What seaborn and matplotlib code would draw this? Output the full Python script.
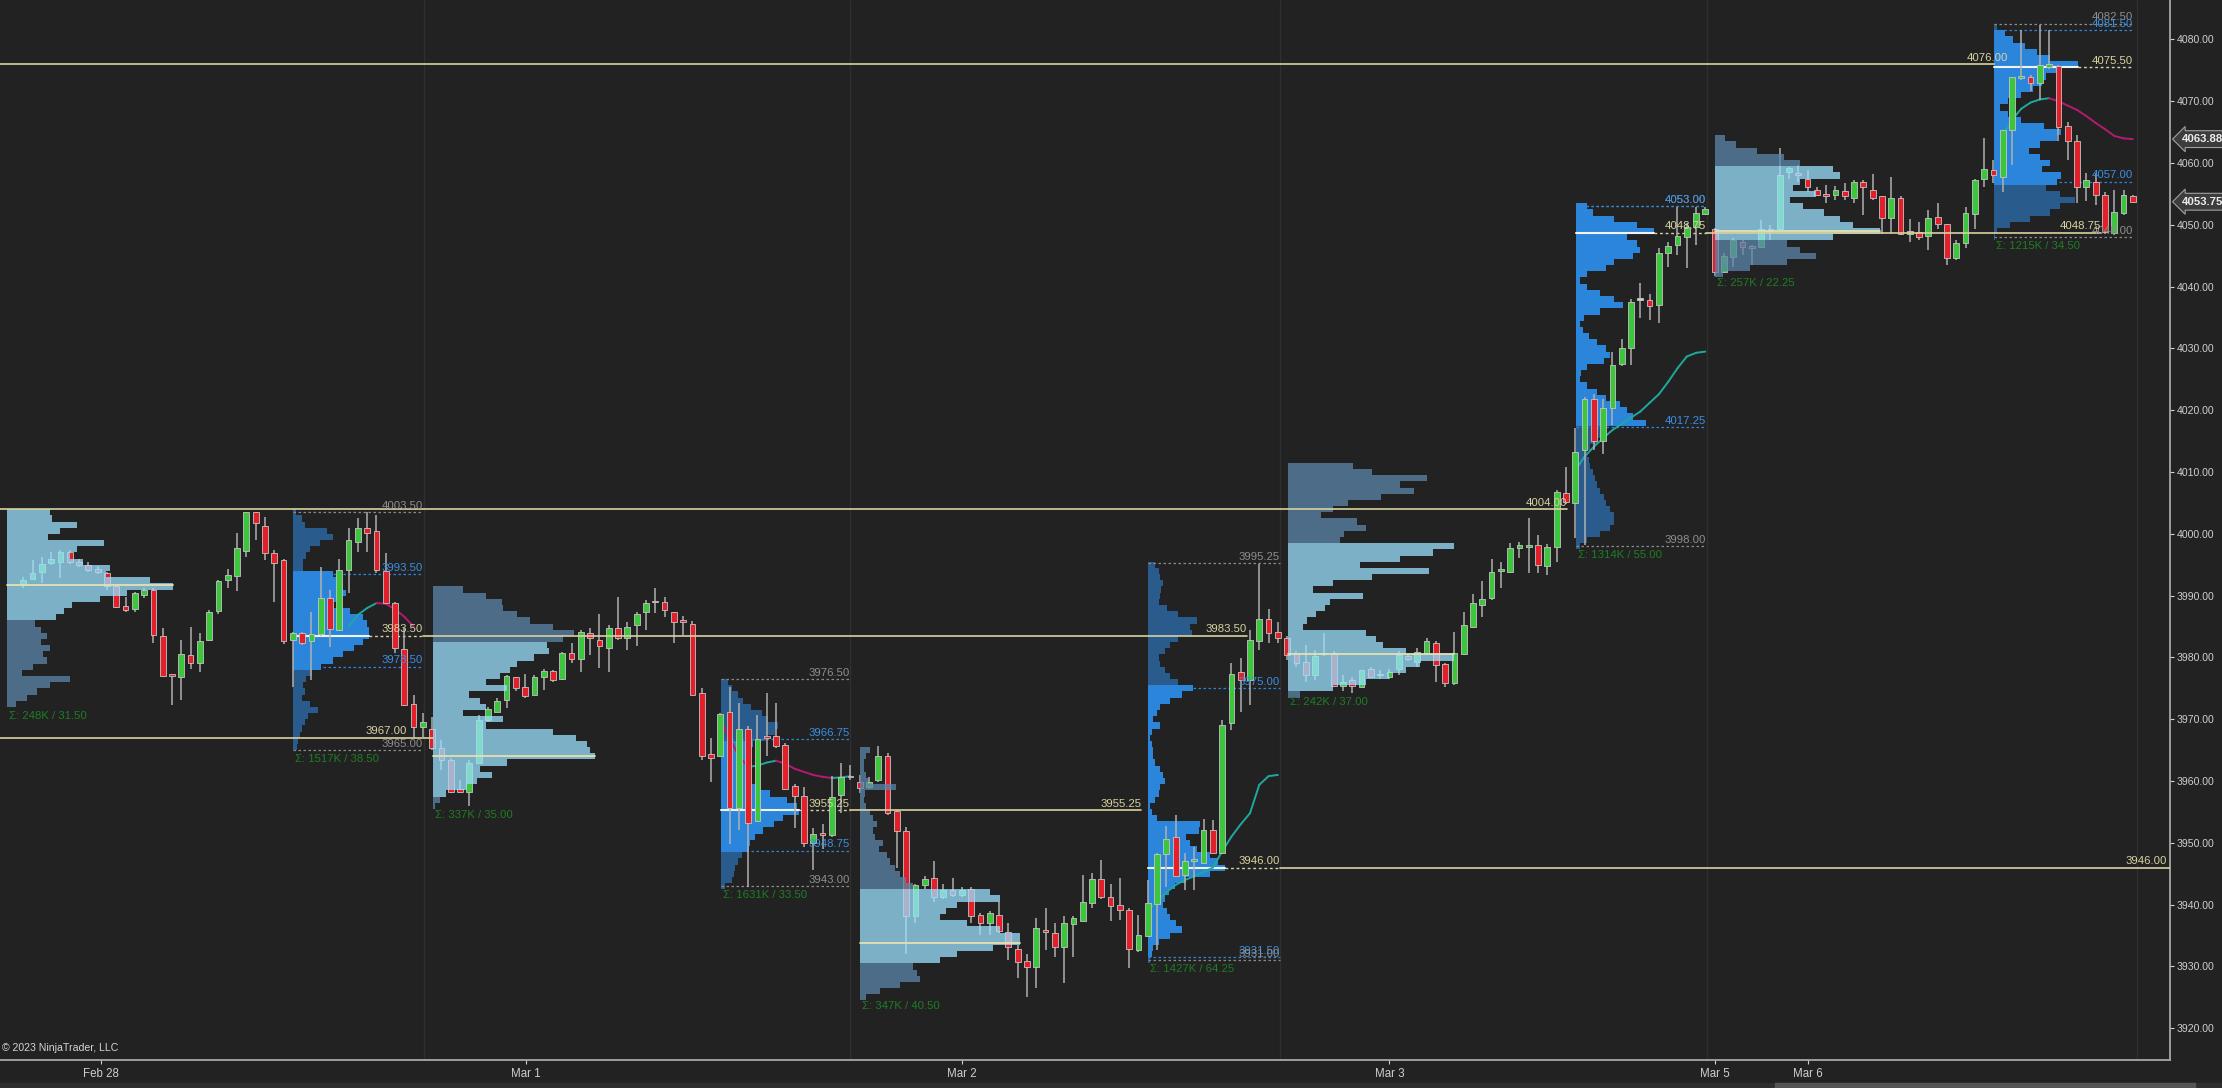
import numpy as np
import matplotlib
matplotlib.use("Agg")
import matplotlib.pyplot as plt
import matplotlib.transforms as mtransforms
from matplotlib.patches import Rectangle
import seaborn as sns

sns.set_style("dark", {"axes.facecolor": "#222222", "figure.facecolor": "#222222",
                       "axes.edgecolor": "#a0a0a0"})
plt.rcParams['font.family'] = ['Liberation Sans', 'DejaVu Sans']

# ---- 30 minute bars, ES, Feb 28 - Mar 6 ----
opens = [3991.8, 3992.7, 3993.9, 3995.3, 3995.5, 3997.1, 3995.5, 3995.0, 3994.4, 3993.6,
         3991.6, 3988.3, 3987.8, 3990.1, 3990.9, 3983.4, 3977.3, 3976.9, 3980.4, 3979.1,
         3982.8, 3987.6, 3992.5, 3993.2, 3997.3, 4003.6, 4001.3, 3996.9, 3995.7, 3982.9,
         3983.9, 3982.6, 3983.8, 3989.6, 3984.4, 3994.2, 3998.7, 4000.9, 4000.4, 3994.0,
         3988.8, 3981.3, 3972.4, 3968.8, 3968.5, 3965.3, 3963.4, 3958.8, 3958.3, 3962.9,
         3969.9, 3971.2, 3973.1, 3976.8, 3975.3, 3973.9, 3976.8, 3977.8, 3976.5, 3980.8,
         3979.8, 3983.9, 3982.8, 3981.5, 3984.7, 3983.1, 3985.3, 3987.3, 3988.9, 3989.0,
         3987.3, 3985.9, 3985.5, 3974.3, 3964.4, 3964.1, 3971.1, 3955.6, 3968.4, 3953.5,
         3967.3, 3967.3, 3965.8, 3959.2, 3957.6, 3950.0, 3951.4, 3951.3, 3957.8, 3960.9,
         3959.8, 3959.1, 3960.2, 3964.0, 3955.1, 3952.0, 3938.2, 3943.2, 3944.4, 3941.2,
         3942.4, 3941.6, 3942.5, 3938.3, 3937.0, 3938.3, 3935.6, 3932.9, 3930.9, 3929.9,
         3935.9, 3935.4, 3933.1, 3936.8, 3937.3, 3940.3, 3944.2, 3941.2, 3939.9, 3939.1,
         3932.7, 3934.9, 3940.1, 3948.2, 3950.9, 3944.8, 3947.1, 3946.8, 3952.1, 3948.4,
         3969.4, 3977.6, 3976.4, 3982.6, 3986.2, 3984.2, 3983.1, 3980.7, 3979.2, 3977.2,
         3980.5, 3980.8, 3975.4, 3976.4, 3975.3, 3978.1, 3977.1, 3976.9, 3978.1, 3980.3,
         3979.3, 3980.8, 3982.3, 3978.9, 3975.8, 3980.6, 3985.0, 3988.5, 3989.6, 3994.0,
         3993.9, 3997.7, 3997.9, 3998.2, 3994.8, 3997.9, 4006.6, 4005.0, 4013.5, 4021.8,
         4015.1, 4020.3, 4027.5, 4030.0, 4037.9, 4037.9, 4037.0, 4045.5, 4046.8, 4048.1,
         4049.7, 4051.8, 4049.3, 4042.4, 4044.8, 4047.3, 4046.4, 4046.5, 4049.4, 4049.3,
         4058.6, 4058.2, 4057.4, 4055.7, 4055.0, 4054.8, 4055.5, 4054.3, 4057.0, 4055.6,
         4054.6, 4051.1, 4054.3, 4048.5, 4048.9, 4048.2, 4051.3, 4050.1, 4044.6, 4047.0,
         4051.8, 4057.4, 4058.9, 4057.8, 4065.4, 4073.8, 4074.0, 4072.9, 4075.6, 4075.7,
         4066.0, 4063.5, 4056.2, 4057.0, 4054.8, 4048.7, 4052.0, 4054.7]
highs = [3993.0, 3995.8, 3996.3, 3997.1, 3997.4, 3997.4, 3996.0, 3995.4, 3994.8, 3993.8,
         3991.7, 3989.8, 3990.6, 3991.2, 3991.2, 3984.7, 3977.4, 3982.8, 3985.0, 3983.9,
         3987.7, 3992.5, 3994.4, 4000.1, 4003.6, 4003.6, 4002.8, 3997.4, 3995.9, 3984.2,
         3984.2, 3987.4, 3994.6, 3990.9, 3995.9, 4000.9, 4002.5, 4003.6, 4003.1, 3996.9,
         3989.0, 3984.7, 3973.9, 3971.0, 3970.4, 3966.7, 3963.7, 3960.2, 3963.4, 3970.7,
         3972.0, 3973.4, 3977.2, 3976.9, 3977.4, 3977.2, 3978.2, 3978.0, 3980.9, 3982.3,
         3984.5, 3984.7, 3987.1, 3985.3, 3989.8, 3985.8, 3987.4, 3989.3, 3991.2, 3989.8,
         3987.4, 3986.7, 3985.9, 3975.0, 3966.9, 3971.0, 3975.3, 3972.6, 3968.9, 3970.7,
         3974.2, 3972.6, 3966.1, 3959.6, 3959.1, 3952.4, 3953.0, 3960.9, 3962.9, 3962.6,
         3961.0, 3960.6, 3965.6, 3964.5, 3955.4, 3952.6, 3943.4, 3944.6, 3947.0, 3943.4,
         3944.3, 3942.9, 3942.9, 3938.6, 3938.9, 3940.5, 3937.0, 3933.5, 3932.1, 3937.8,
         3939.4, 3937.0, 3938.1, 3938.1, 3944.8, 3945.1, 3947.2, 3943.4, 3944.3, 3939.4,
         3938.3, 3944.0, 3948.3, 3952.7, 3954.5, 3948.3, 3949.4, 3953.8, 3953.7, 3969.9,
         3979.1, 3979.9, 3984.5, 3995.2, 3987.8, 3985.8, 3983.4, 3981.0, 3982.0, 3981.2,
         3983.9, 3981.0, 3977.2, 3976.9, 3978.0, 3978.4, 3977.9, 3978.2, 3981.0, 3980.6,
         3981.5, 3983.1, 3982.6, 3979.1, 3984.2, 3987.4, 3990.3, 3992.3, 3995.9, 3995.5,
         3998.6, 3998.7, 4002.5, 3999.8, 3998.4, 4007.1, 4010.9, 4017.1, 4022.2, 4022.7,
         4021.9, 4029.5, 4031.5, 4038.0, 4040.6, 4038.8, 4046.2, 4047.3, 4052.9, 4050.3,
         4052.9, 4052.9, 4049.5, 4045.4, 4047.8, 4047.6, 4046.7, 4050.8, 4050.0, 4062.4,
         4059.4, 4059.7, 4058.9, 4056.2, 4056.5, 4056.3, 4056.7, 4057.3, 4057.3, 4058.2,
         4054.7, 4057.7, 4054.7, 4050.9, 4050.5, 4052.4, 4053.5, 4050.2, 4047.5, 4052.9,
         4057.5, 4064.0, 4060.5, 4065.4, 4074.0, 4081.5, 4074.2, 4082.3, 4081.6, 4075.9,
         4066.7, 4064.5, 4058.4, 4058.4, 4055.4, 4055.6, 4055.6, 4054.8]
lows = [3991.2, 3992.5, 3992.0, 3995.0, 3992.8, 3995.2, 3994.6, 3993.9, 3993.5, 3991.0,
        3988.0, 3987.4, 3987.4, 3989.6, 3982.3, 3976.9, 3972.3, 3973.1, 3978.2, 3977.7,
        3982.6, 3987.1, 3991.2, 3990.7, 3996.3, 3999.0, 3995.8, 3989.0, 3982.2, 3975.3,
        3982.0, 3976.4, 3983.4, 3981.7, 3984.3, 3990.4, 3997.1, 3997.1, 3993.6, 3988.7,
        3980.7, 3972.1, 3966.9, 3967.2, 3965.0, 3961.8, 3958.0, 3958.0, 3955.9, 3962.9,
        3969.6, 3971.2, 3971.8, 3974.5, 3973.4, 3973.9, 3974.7, 3976.1, 3976.4, 3979.1,
        3977.7, 3980.4, 3978.3, 3977.7, 3982.8, 3981.2, 3981.8, 3984.5, 3987.2, 3986.6,
        3982.3, 3983.6, 3973.9, 3963.4, 3959.9, 3963.9, 3949.9, 3952.1, 3942.9, 3953.4,
        3964.0, 3965.3, 3958.6, 3952.4, 3949.4, 3945.6, 3949.0, 3950.9, 3954.8, 3960.2,
        3958.0, 3958.8, 3959.9, 3954.5, 3945.9, 3932.1, 3937.0, 3942.6, 3940.5, 3941.0,
        3941.3, 3941.3, 3937.0, 3935.1, 3935.1, 3935.4, 3931.0, 3928.1, 3925.1, 3926.5,
        3932.7, 3931.6, 3927.3, 3931.6, 3937.3, 3939.4, 3941.0, 3937.3, 3937.5, 3929.7,
        3932.4, 3934.8, 3932.7, 3942.9, 3944.6, 3942.3, 3942.4, 3946.7, 3948.3, 3948.2,
        3968.3, 3971.2, 3972.3, 3981.2, 3982.3, 3982.3, 3979.6, 3978.5, 3976.1, 3976.4,
        3980.2, 3975.3, 3974.5, 3974.2, 3975.2, 3976.7, 3976.6, 3976.5, 3977.2, 3979.4,
        3978.5, 3980.4, 3976.1, 3975.3, 3975.5, 3980.4, 3984.7, 3986.6, 3989.3, 3991.2,
        3993.6, 3996.1, 3993.6, 3993.6, 3993.4, 3995.5, 4004.9, 3999.3, 3998.2, 4013.6,
        4013.0, 4017.6, 4027.1, 4027.3, 4034.9, 4034.6, 4034.1, 4043.2, 4045.1, 4043.0,
        4046.8, 4051.6, 4041.7, 4042.2, 4043.2, 4045.1, 4043.5, 4046.2, 4047.6, 4049.2,
        4057.5, 4057.0, 4055.4, 4054.6, 4053.5, 4054.0, 4054.0, 4053.5, 4051.6, 4054.0,
        4048.6, 4048.7, 4048.4, 4047.3, 4047.6, 4045.9, 4049.4, 4043.5, 4044.3, 4046.2,
        4049.4, 4056.1, 4056.7, 4055.4, 4059.7, 4073.4, 4071.7, 4070.2, 4075.3, 4063.5,
        4060.5, 4053.5, 4053.8, 4053.2, 4048.6, 4048.4, 4051.6, 4053.7]
closes = [3992.5, 3993.6, 3995.2, 3995.9, 3997.1, 3995.5, 3995.0, 3994.2, 3993.8, 3991.5,
          3988.1, 3987.7, 3990.4, 3990.9, 3983.6, 3977.0, 3977.0, 3980.6, 3979.1, 3982.6,
          3987.4, 3992.4, 3993.4, 3997.7, 4003.6, 4001.7, 3996.9, 3995.3, 3982.7, 3983.9,
          3982.3, 3983.8, 3989.6, 3984.6, 3994.2, 3999.0, 4000.9, 4000.1, 3994.2, 3988.8,
          3981.6, 3972.3, 3968.8, 3969.6, 3965.3, 3963.4, 3958.3, 3958.3, 3962.9, 3969.9,
          3971.6, 3972.9, 3977.0, 3975.0, 3973.7, 3976.9, 3977.8, 3976.4, 3980.8, 3979.8,
          3984.2, 3983.1, 3981.8, 3984.7, 3983.1, 3985.0, 3987.1, 3988.8, 3989.0, 3987.7,
          3985.8, 3985.8, 3974.0, 3964.0, 3963.8, 3970.9, 3955.6, 3968.4, 3953.3, 3966.8,
          3967.0, 3965.7, 3958.8, 3957.6, 3950.0, 3951.4, 3951.3, 3957.5, 3960.7, 3960.6,
          3958.9, 3959.9, 3964.0, 3954.8, 3952.0, 3938.2, 3943.2, 3944.2, 3941.3, 3942.4,
          3941.6, 3942.4, 3938.1, 3937.1, 3938.6, 3935.8, 3933.1, 3930.8, 3929.9, 3936.2,
          3935.6, 3933.1, 3937.0, 3937.8, 3940.5, 3944.2, 3941.3, 3939.8, 3939.2, 3932.8,
          3935.1, 3940.2, 3948.2, 3950.7, 3944.6, 3947.1, 3947.2, 3952.1, 3948.4, 3969.1,
          3977.3, 3976.4, 3982.8, 3986.3, 3983.9, 3983.1, 3980.4, 3979.1, 3977.2, 3980.3,
          3980.7, 3975.4, 3976.1, 3975.4, 3977.9, 3976.9, 3977.2, 3977.7, 3980.4, 3979.7,
          3980.9, 3982.6, 3978.8, 3975.8, 3980.8, 3985.3, 3988.8, 3989.4, 3993.9, 3994.2,
          3997.7, 3998.2, 3998.0, 3995.0, 3997.9, 4006.8, 4005.2, 4013.3, 4021.8, 4015.1,
          4020.3, 4027.3, 4030.1, 4037.6, 4037.9, 4036.8, 4045.5, 4046.6, 4048.2, 4049.7,
          4052.0, 4052.5, 4042.4, 4044.9, 4047.5, 4046.4, 4046.3, 4049.4, 4049.0, 4058.1,
          4059.2, 4058.1, 4056.1, 4054.8, 4054.6, 4055.7, 4054.6, 4057.0, 4056.1, 4054.3,
          4051.1, 4054.3, 4048.5, 4049.0, 4048.1, 4051.1, 4050.2, 4044.7, 4047.0, 4052.0,
          4057.3, 4059.0, 4058.1, 4065.4, 4074.0, 4074.0, 4072.9, 4075.9, 4076.1, 4065.9,
          4063.5, 4056.2, 4057.3, 4054.8, 4048.9, 4052.1, 4054.8, 4053.75]

# ---- volume profiles (widths in bar units, 1 point rows, listed top -> bottom) ----
prof_kind = ["eth", "rth", "eth", "rth", "eth", "rth", "eth", "rth", "eth", "rth"]
prof_start = [-1.75, 29.05, 44.12, 75.04, 90.03, 121.06, 136.1, 167.05, 182.04, 212.1]
prof_top = [4003.5, 4003.5, 3991.0, 3976.0, 3965.0, 3995.0, 4011.0, 4053.0, 4064.0, 4082.0]
prof_high = [4003.5, 4003.5, 3991.0, 3976.5, 3965.5, 3995.25, 4011.25, 4053.0, 4064.25, 4082.5]
prof_low = [3972.0, 3965.0, 3956.0, 3943.0, 3925.0, 3931.0, 3974.25, 3998.0, 4042.0, 4048.0]
prof_vah = [4003.5, 3993.5, 3982.0, 3966.75, 3942.5, 3975.0, 3998.5, 4053.0, 4059.5, 4081.5]
prof_val = [3986.0, 3978.5, 3958.0, 3948.75, 3930.5, 3931.5, 3974.5, 4017.25, 4047.6, 4057.0]
prof_poc = [3991.75, 3983.5, 3964.0, 3955.25, 3933.75, 3946.0, 3980.5, 4048.75, 4049.0, 4075.5]
prof_volk = [248, 1517, 337, 1631, 347, 1427, 242, 1314, 257, 1215]
prof_w = [
    [4.6, 4.8, 7.5, 5.7, 4.4, 10.4, 7.5, 6.8, 8.2, 11.1, 10.7, 15.4, 17.9, 12.9, 10.0, 7.0,
     6.1, 5.3, 3.0, 3.7, 4.3, 3.7, 4.6, 3.9, 4.3, 2.8, 1.6, 6.8, 4.6, 3.2, 2.1, 1.0],
    [0.3, 0.9, 1.3, 3.6, 4.3, 2.9, 1.8, 1.4, 1.1, 1.1, 4.3, 4.7, 5.4, 5.7, 5.0, 4.3, 6.1,
     7.5, 7.9, 8.1, 8.2, 7.5, 6.5, 5.4, 4.3, 3.0, 2.0, 1.4, 1.1, 1.3, 0.9, 1.8, 2.7, 1.6,
     1.3, 0.9, 0.7, 0.5, 0.4],
    [3.2, 5.7, 7.4, 7.5, 9.0, 10.4, 12.9, 15.1, 14.0, 12.2, 12.4, 10.8, 9.0, 8.2, 7.2, 5.7,
     7.9, 3.8, 5.0, 5.7, 3.2, 7.5, 5.7, 12.9, 15.4, 16.5, 16.9, 17.4, 7.9, 5.0, 6.3, 4.7,
     3.6, 1.4, 0.7, 0.2],
    [0.8, 1.2, 1.9, 2.4, 3.3, 4.4, 5.1, 6.2, 5.8, 4.9, 3.5, 3.2, 3.0, 3.2, 2.8, 3.3, 3.2,
     3.9, 5.3, 7.1, 8.2, 8.4, 6.7, 5.7, 4.6, 3.7, 3.2, 3.0, 2.3, 1.9, 1.5, 1.4, 1.2, 0.5],
    [1.1, 0.7, 0.4, 0.4, 0.7, 0.9, 3.9, 0.5, 0.4, 0.7, 1.1, 1.4, 1.8, 1.4, 1.6, 2.5, 2.0,
     2.9, 3.2, 3.8, 4.3, 5.0, 5.7, 14.0, 15.1, 10.4, 9.3, 8.6, 11.5, 15.1, 17.2, 17.2, 14.3,
     10.4, 8.6, 5.7, 6.1, 6.5, 4.3, 2.2, 0.7],
    [0.7, 1.1, 1.3, 1.6, 1.4, 1.3, 1.1, 2.0, 3.2, 5.2, 4.5, 4.7, 3.2, 2.3, 1.8, 1.1, 1.3,
     1.8, 2.3, 3.2, 4.8, 3.6, 2.3, 1.3, 0.9, 0.5, 1.3, 0.4, 0.2, 0.4, 0.5, 0.5, 0.7, 1.3,
     1.6, 1.8, 1.3, 1.1, 0.7, 0.2, 0.4, 0.9, 5.6, 5.4, 4.1, 4.5, 5.2, 6.6, 7.5, 8.2, 6.6,
     4.1, 2.9, 2.2, 1.8, 1.6, 2.0, 2.3, 3.0, 3.6, 2.3, 1.1, 0.5, 0.4, 0.2],
    [7.0, 9.0, 14.9, 12.0, 13.5, 10.0, 6.5, 4.8, 3.5, 7.4, 8.4, 6.0, 5.6, 17.8, 15.6, 12.0,
     7.7, 15.2, 9.0, 4.8, 2.7, 8.1, 4.5, 4.0, 3.0, 2.0, 1.6, 8.4, 9.5, 10.2, 12.7, 17.8,
     14.2, 12.7, 10.9, 8.4, 4.8, 1.3],
    [1.2, 1.9, 4.1, 6.6, 8.4, 5.5, 6.6, 6.9, 6.2, 4.1, 3.3, 1.2, 0.5, 1.2, 2.6, 4.1, 5.1,
     2.6, 0.9, 0.5, 0.8, 1.4, 2.3, 3.3, 3.7, 3.0, 1.2, 0.6, 0.5, 1.2, 2.3, 3.3, 4.8, 5.5,
     6.2, 7.6, 3.3, 3.0, 2.3, 1.5, 1.2, 1.4, 1.5, 1.9, 2.1, 2.3, 2.6, 3.0, 3.3, 3.7, 4.1,
     4.1, 3.7, 2.6, 1.2, 0.5],
    [1.1, 2.3, 4.5, 7.4, 9.1, 12.7, 13.5, 9.1, 8.4, 10.9, 8.1, 9.5, 11.7, 13.5, 14.9, 17.8,
     12.7, 7.7, 9.1, 10.9, 7.7, 3.8, 0.9],
    [0.25, 1.1, 2.0, 3.3, 4.6, 6.0, 9.0, 7.1, 5.6, 5.1, 4.2, 2.9, 1.5, 0.6, 1.5, 2.9, 5.3,
     7.2, 6.7, 4.9, 3.7, 4.9, 6.0, 5.1, 7.2, 6.7, 5.6, 7.1, 8.7, 7.1, 6.0, 3.8, 1.7, 0.25,
     0.1],
]
# RTH sessions end on these bars (labels are right aligned there)
sess_end = [43.0, 88.96, 135.2, 181.1, 227.0]
day_grid = [43.1, 89.0, 135.2, 181.2, 227.4]

# naked POC / reference lines
ext_price = [4076.0, 4004.0, 3967.0, 3983.5, 3955.25, 3946.0, 4048.75]
ext_start = [-2.6, -2.6, -2.6, 43.0, 88.96, 135.2, 181.1]
ext_end = [212.1, 166.1, 44.1, 131.7, 120.3, 231.0, 223.6]
ext_label_x = [213.6, 166.1, 41.3, 131.7, 120.3, 230.7, 223.6]

# session VWAP style lines
vw_x = [list(range(35, 43)), list(range(75, 90)), list(range(121, 136)),
        list(range(167, 182)), list(range(213, 228))]
vw_y = [[3985.0, 3986.9, 3988.0, 3988.8, 3988.7, 3987.8, 3986.6, 3985.0],
        [3969.8, 3967.0, 3964.0, 3962.3, 3962.5, 3963.0, 3963.3, 3962.8, 3962.0, 3961.5,
         3961.0, 3960.7, 3960.5, 3960.6, 3960.8],
        [3939.0, 3940.5, 3942.0, 3943.2, 3944.0, 3944.6, 3945.3, 3946.0, 3948.6, 3951.0,
         3953.0, 3954.8, 3959.4, 3960.8, 3961.0],
        [4010.3, 4012.5, 4014.1, 4015.5, 4016.8, 4017.8, 4018.8, 4019.8, 4021.2, 4022.6,
         4024.6, 4026.8, 4028.7, 4029.3, 4029.5],
        [4064.3, 4067.0, 4068.8, 4069.8, 4070.3, 4070.5, 4070.0, 4069.3, 4068.6, 4067.6,
         4066.5, 4065.5, 4064.4, 4064.0, 4063.88]]

date_pos = [8.4, 54.1, 101.0, 147.0, 182.0, 192.0]
date_lab = ["Feb 28", "Mar 1", "Mar 2", "Mar 3", "Mar 5", "Mar 6"]

BG = "#222222"
YEL = "#d8d2a0"
BLUE_TXT = "#3b8fe4"
GRAY_TXT = "#8e8e8e"

fig = plt.figure(figsize=(22.22, 10.88), dpi=100)
ax = fig.add_axes([0, 28 / 1088, 2170 / 2222, 1060 / 1088])
ax.set_facecolor(BG)
ax.set_xlim(-2.507, 231.0)
ax.set_ylim(3914.87, 4086.39)

for g in day_grid:
    ax.axvline(g, color="#2f2f2f", lw=1, zorder=0)

# ---- candles ----
o = np.array(opens); h = np.array(highs); l = np.array(lows); c = np.array(closes)
x = np.arange(len(o))
body_lo = np.minimum(o, c)
body_h = np.maximum(np.abs(c - o), 0.3)
fill = np.where(c > o, "#3cc63c", np.where(c < o, "#e3202a", "#d0d0d0"))
ax.vlines(x, l, h, color="#b0b0b0", lw=1.1, zorder=3)
ax.bar(x, body_h, bottom=body_lo, width=0.62, color=fill, edgecolor="#c4c4c4",
       linewidth=0.6, zorder=3.2)

# ---- VWAP lines ----
for xs, ys in zip(vw_x, vw_y):
    for k in range(len(xs) - 1):
        col = "#1fa89c" if ys[k + 1] >= ys[k] else "#b51a72"
        ax.plot(xs[k:k + 2], ys[k:k + 2], color=col, lw=1.4, zorder=2.6,
                solid_capstyle="round")

# ---- profiles ----
rth_i = 0
for k in range(len(prof_w)):
    w = np.array(prof_w[k])
    prices = prof_top[k] - np.arange(len(w))
    inva = (prices >= prof_val[k] - 0.01) & (prices <= prof_vah[k] + 0.01)
    start = prof_start[k]
    if prof_kind[k] == "eth":
        cols = np.where(inva, "#9ae1ff", "#5b86aa")
        ax.barh(prices, w, left=start, height=1.0, color=cols, alpha=0.75,
                linewidth=0, antialiased=False, zorder=4)
        ax.plot([start, start + w.max()], [prof_poc[k]] * 2, color="#e6e0b0", lw=1.3, zorder=4.5)
    else:
        cols = np.where(inva, "#2b86db", "#295b8c")
        ax.barh(prices, w, left=start, height=1.0, color=cols,
                linewidth=0, antialiased=False, zorder=1)
        end = sess_end[rth_i]
        rth_i += 1
        for val, lc, tc in [(prof_high[k], "#8a8a8a", GRAY_TXT), (prof_vah[k], "#2b86db", BLUE_TXT),
                            (prof_val[k], "#2b86db", BLUE_TXT), (prof_low[k], "#8a8a8a", GRAY_TXT)]:
            ax.plot([start, end], [val, val], color=lc, lw=0.9, ls=(0, (2, 2)), zorder=2)
            ax.text(end, val + 0.25, f"{val:.2f}", color=tc, fontsize=8.2,
                    ha="right", va="bottom", zorder=6)
        ax.plot([start, start + w.max()], [prof_poc[k]] * 2, color="#f2f2f2", lw=1.5, zorder=2.2)
        ax.plot([start + w.max(), end], [prof_poc[k]] * 2, color=YEL, lw=1.0,
                ls=(0, (2, 2)), zorder=2)
        ax.text(end, prof_poc[k] + 0.25, f"{prof_poc[k]:.2f}", color=YEL, fontsize=8.2,
                ha="right", va="bottom", zorder=6)
    rng = prof_high[k] - prof_low[k]
    ax.text(start + 0.2, prof_low[k] - 0.6, f"\u03a3: {prof_volk[k]}K / {rng:.2f}",
            color="#1f7d22", fontsize=8.2, ha="left", va="top", zorder=6)

# ---- extension lines ----
for p, s, e, lx in zip(ext_price, ext_start, ext_end, ext_label_x):
    ax.plot([s, e], [p, p], color=YEL, lw=1.2, zorder=5)
    ax.text(lx, p + 0.25, f"{p:.2f}", color=YEL, fontsize=8.2, ha="right",
            va="bottom", zorder=6)

# ---- axes styling ----
for side in ["top", "left"]:
    ax.spines[side].set_visible(False)
for side in ["right", "bottom"]:
    ax.spines[side].set_color("#a8a8a8")
    ax.spines[side].set_linewidth(1.3)
ax.yaxis.tick_right()
ax.set_yticks(np.arange(3920, 4081, 10))
ax.set_yticklabels([f"{v:.2f}" for v in np.arange(3920, 4081, 10)])
ax.tick_params(axis="y", colors="#cfcfcf", labelsize=7.6, length=3, width=0.8, pad=2,
               direction="out", right=True, left=False)
ax.set_xticks(date_pos)
ax.set_xticklabels(date_lab)
ax.tick_params(axis="x", colors="#cfcfcf", labelsize=8.3, length=3, width=0.8, pad=3,
               direction="out", bottom=True)
ax.grid(False)

trans = mtransforms.blended_transform_factory(ax.transAxes, ax.transData)
for val in [4063.88, closes[-1]]:
    ax.text(1.0055, val, f"{val:.2f}", transform=trans, color="#ececec", fontsize=8.2,
            fontweight="bold", ha="left", va="center", clip_on=False, zorder=7,
            bbox=dict(boxstyle="larrow,pad=0.3", fc="#3c3c3c", ec="#a0a0a0", lw=0.8))

ax.text(2 / 2170, 12 / 1060, "\u00a9 2023 NinjaTrader, LLC", transform=ax.transAxes,
        color="#d4d4d4", fontsize=7.6, ha="left", va="center")

fig.add_artist(Rectangle((0, 0), 1, 5 / 1088, transform=fig.transFigure,
                         color="#2e2e2e", zorder=0))
fig.add_artist(Rectangle((1775 / 2222, 0), 420 / 2222, 5 / 1088, transform=fig.transFigure,
                         color="#555555", zorder=1))

fig.savefig("out.png", dpi=100, facecolor=BG)
